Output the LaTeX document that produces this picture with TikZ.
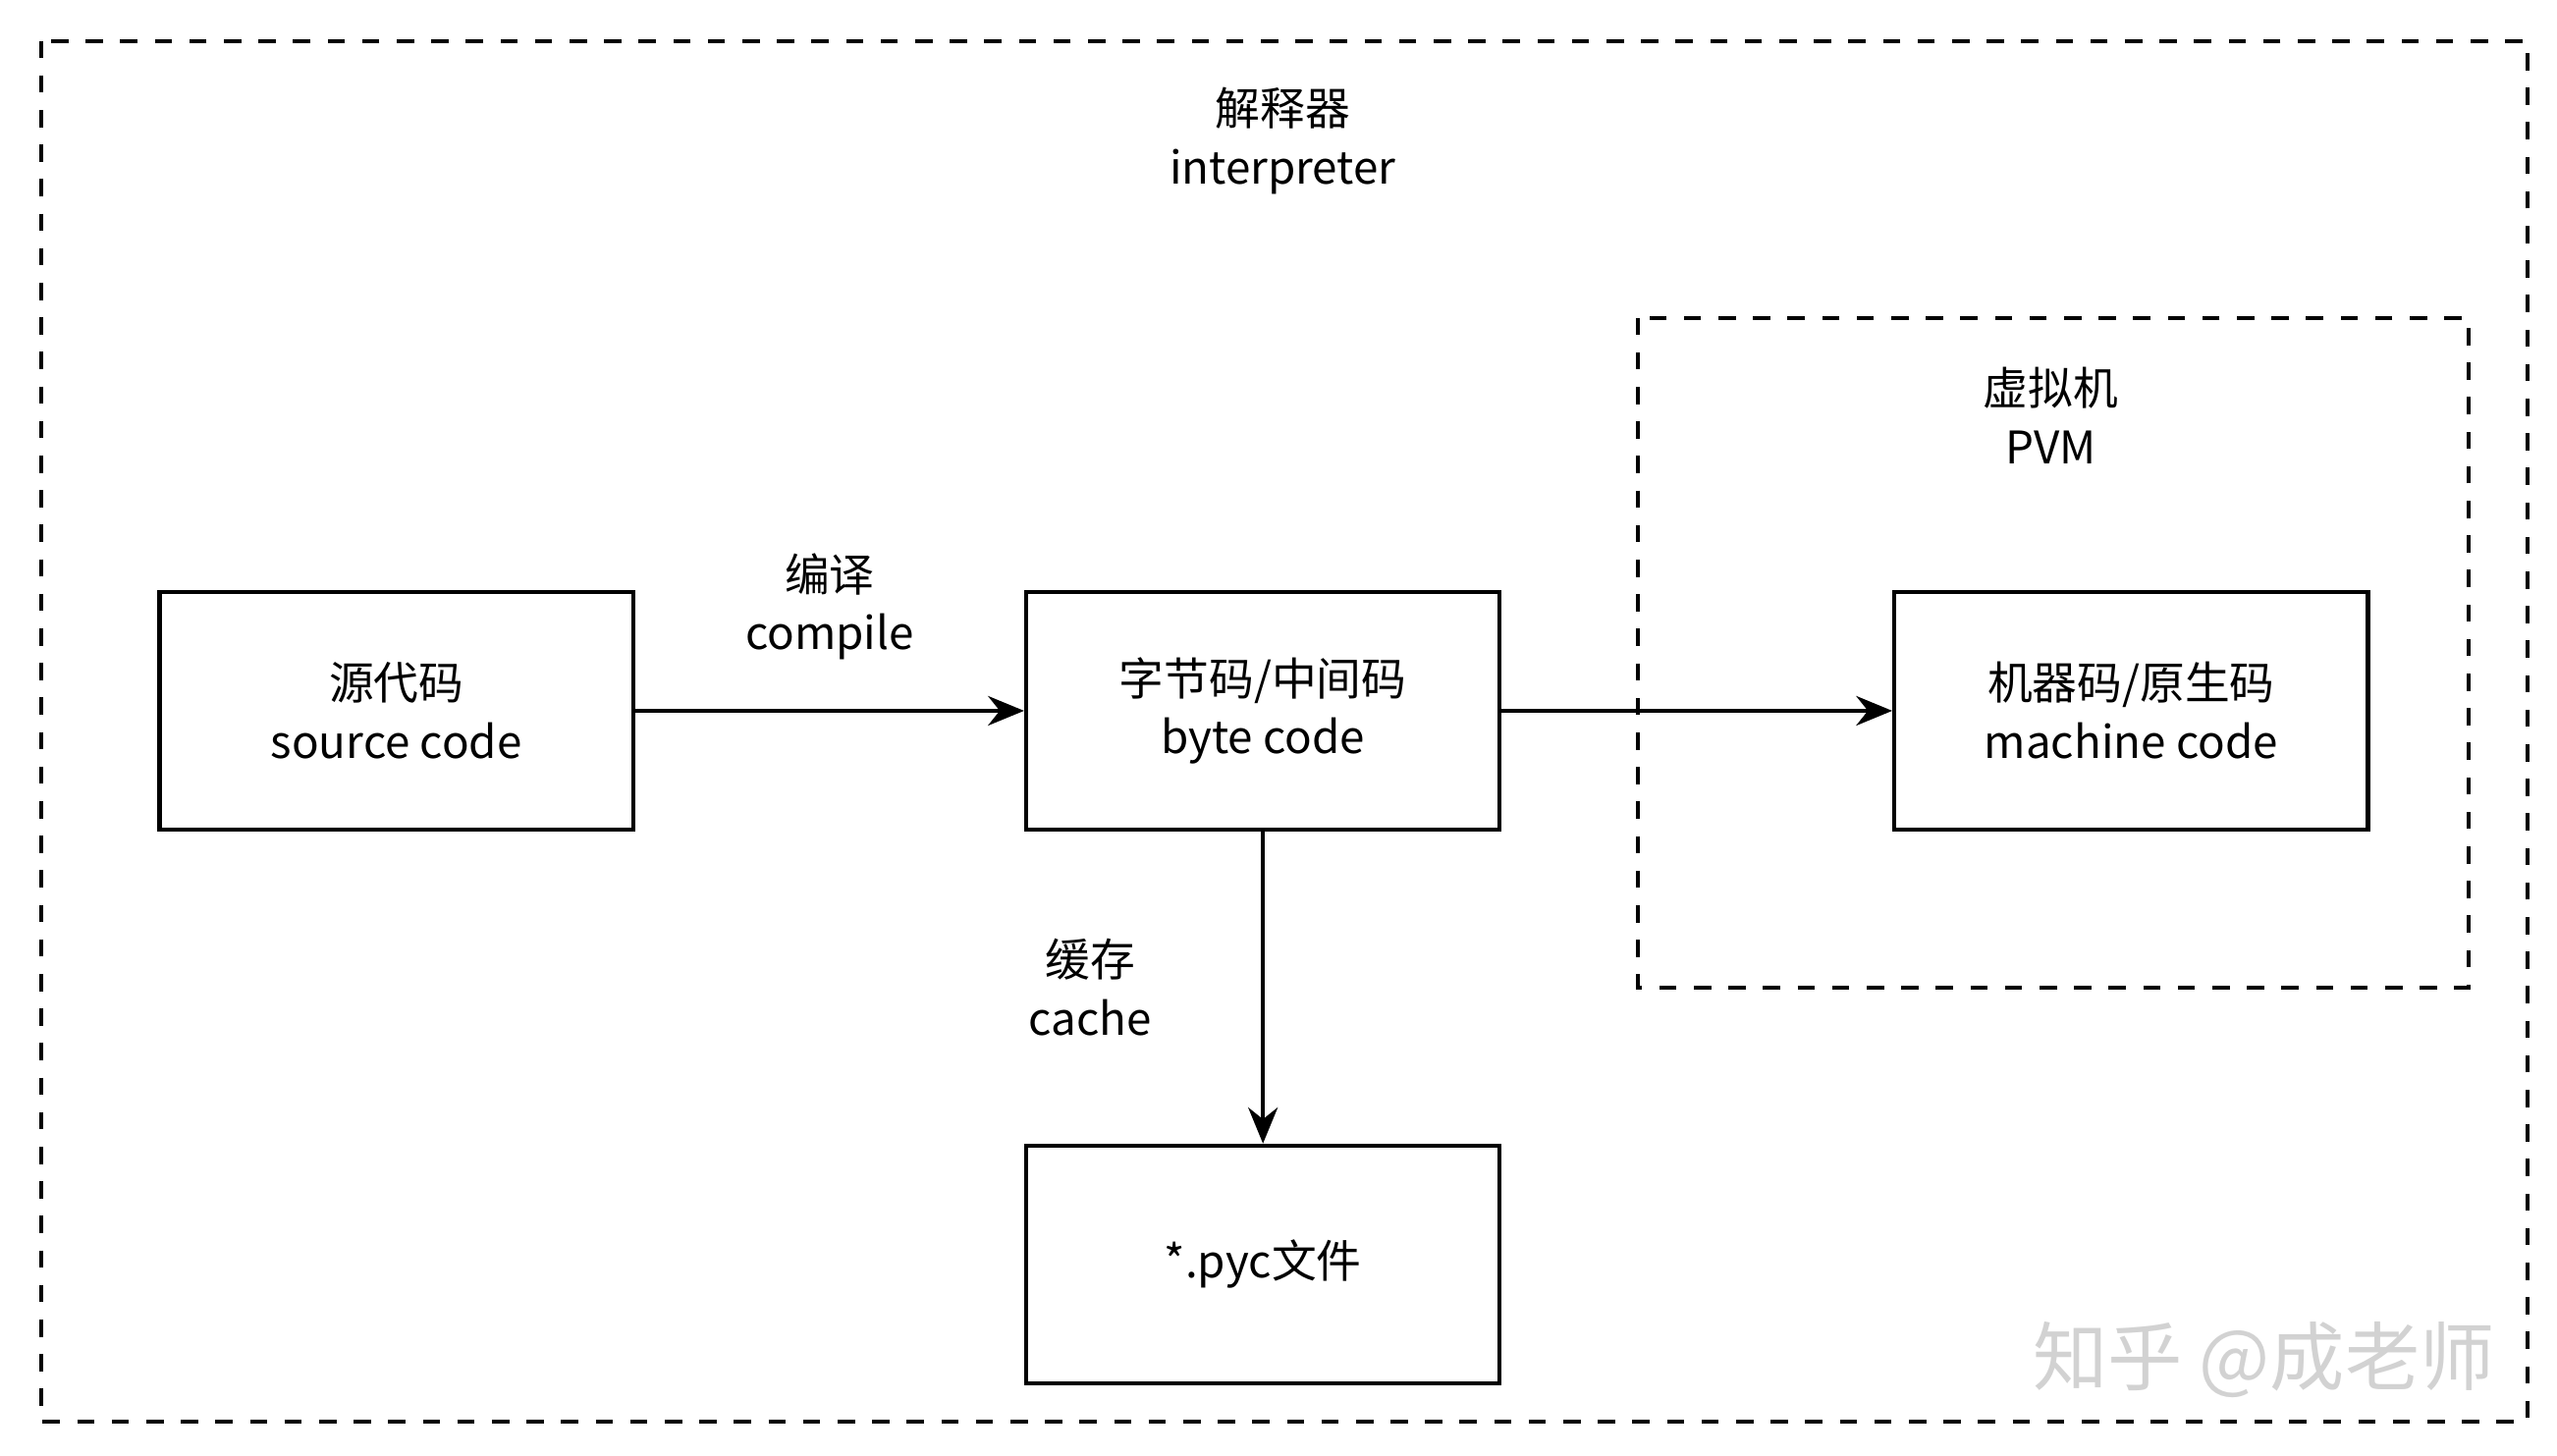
\documentclass[tikz,border=0pt]{standalone}
\usepackage{fontspec}
\setmainfont{Noto Sans CJK SC}
\usetikzlibrary{arrows.meta, positioning}

\begin{document}
\begin{tikzpicture}[x=0.01cm, y=-0.01cm,
    every node/.style={font=\fontsize{7.8}{10.2}\selectfont, align=center},
    box/.style={draw, line width=0.7pt, minimum width=2.89cm, minimum height=1.45cm},
    frame/.style={draw, dashed, line width=0.7pt},
    arr/.style={-{Stealth[length=2.2mm, width=1.8mm]}, line width=0.7pt}]
    \useasboundingbox (0,0) rectangle (1561,889);

    % outer interpreter area
    \draw[frame] (25,25) rectangle (1543,868);
    \node (interp) at (783,86) {解释器\\interpreter};

    % virtual machine area
    \draw[frame] (1000,194) rectangle (1507,603);
    \node (pvm) at (1252,254) {虚拟机\\PVM};

    % boxes
    \node[box] (src) at (242,434) {源代码\\source code};
    \node[box] (byte) at (771,434) {字节码/中间码\\byte code};
    \node[box] (mach) at (1301,434) {机器码/原生码\\machine code};
    \node[box] (pyc) at (771,772) {*.pyc文件};

    % arrows
    \draw[arr] (src) -- node[above=0.18cm] {编译\\compile} (byte);
    \draw[arr] (byte) -- (mach);
    \draw[arr] (byte) -- node[left=0.55cm] {缓存\\cache} (pyc);

    % watermark
    \node[text=gray!35, font=\fontsize{13}{15}\selectfont] (mark) at (1382,830) {知乎 @成老师};
\end{tikzpicture}
\end{document}
